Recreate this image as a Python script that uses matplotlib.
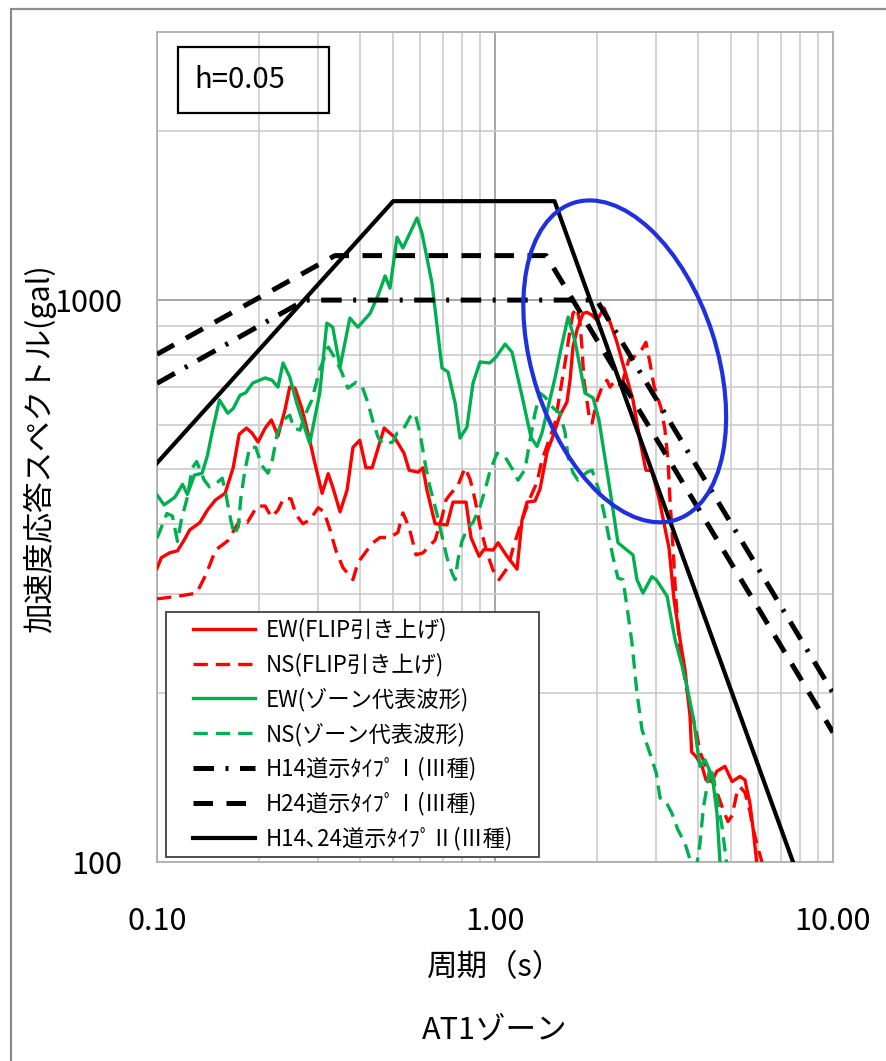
import numpy as np
import matplotlib
matplotlib.use('Agg')
import matplotlib.pyplot as plt
from matplotlib.patches import Ellipse, Rectangle
from matplotlib.transforms import ScaledTranslation
from matplotlib.ticker import LogLocator, NullFormatter, FuncFormatter

plt.rcParams['font.family'] = ['Noto Sans CJK JP', 'DejaVu Sans']

# EW(FLIP引き上げ)
ew_flip_T = [0.100, 0.103, 0.109, 0.115, 0.120, 0.125, 0.134, 0.141, 0.149, 0.159, 0.168, 0.175, 0.184, 0.191, 0.199,
             0.209, 0.218, 0.228, 0.239, 0.247, 0.256, 0.268, 0.283, 0.293, 0.308, 0.321, 0.331, 0.348, 0.365, 0.380,
             0.398, 0.415, 0.433, 0.470, 0.503, 0.538, 0.557, 0.592, 0.612, 0.629, 0.665, 0.721, 0.751, 0.821, 0.849,
             0.897, 0.928, 0.987, 1.021, 1.078, 1.162, 1.202, 1.244, 1.313, 1.359, 1.426, 1.485, 1.557, 1.633, 1.667,
             1.701, 1.747, 1.821, 1.871, 1.937, 2.004, 2.102, 2.189, 2.294, 2.424, 2.560, 2.685, 2.795, 2.910, 3.055,
             3.272, 3.386, 3.526, 3.648, 3.775, 3.817, 3.936, 4.097, 4.211, 4.383, 4.529, 4.791, 5.030, 5.306, 5.489,
             5.680, 5.808, 5.945, 6.012]
ew_flip_S = [333, 348, 355, 358, 373, 390, 402, 423, 441, 453, 503, 577, 592, 580, 559,
             592, 612, 573, 637, 700, 697, 643, 563, 513, 453, 491, 465, 420, 459, 547,
             563, 503, 503, 592, 571, 534, 498, 494, 503, 459, 400, 398, 437, 437, 378,
             350, 360, 359, 370, 352, 332, 406, 437, 439, 461, 537, 573, 624, 659, 720,
             825, 884, 947, 951, 940, 921, 968, 914, 842, 747, 664, 563, 498, 497, 444,
             362, 293, 249, 220, 182, 157, 154, 148, 140, 139, 145, 148, 139, 142, 140,
             127, 114, 100, 93]

# NS(FLIP引き上げ)
ns_flip_T = [0.100, 0.115, 0.131, 0.140, 0.149, 0.162, 0.176, 0.185, 0.198, 0.209, 0.218, 0.228, 0.237, 0.249, 0.258,
             0.270, 0.283, 0.300, 0.312, 0.325, 0.338, 0.355, 0.380, 0.393, 0.433, 0.457, 0.489, 0.516, 0.534, 0.557,
             0.584, 0.612, 0.665, 0.697, 0.716, 0.741, 0.777, 0.815, 0.844, 0.873, 0.903, 0.947, 0.986, 1.028, 1.093,
             1.131, 1.202, 1.269, 1.331, 1.377, 1.455, 1.505, 1.557, 1.611, 1.667, 1.701, 1.747, 1.784, 1.808, 1.833,
             1.897, 1.937, 2.004, 2.073, 2.144, 2.189, 2.236, 2.311, 2.391, 2.491, 2.595, 2.722, 2.796, 2.874, 2.953,
             3.098, 3.184, 3.249, 3.294, 3.360, 3.430, 3.526, 3.648, 3.775, 3.936, 4.041, 4.238, 4.384, 4.537, 4.729,
             4.889, 5.030, 5.200, 5.306, 5.489, 5.680, 5.774, 5.945, 6.162, 6.240]
ns_flip_S = [294, 297, 301, 326, 359, 373, 406, 402, 430, 430, 411, 423, 444, 443, 415,
             400, 406, 427, 420, 390, 359, 334, 318, 341, 369, 378, 378, 386, 418, 394,
             352, 355, 374, 411, 441, 453, 468, 503, 480, 441, 396, 355, 331, 318, 335,
             362, 406, 444, 474, 519, 570, 604, 683, 773, 884, 947, 968, 910, 825, 720,
             624, 604, 664, 700, 720, 700, 712, 700, 720, 785, 795, 818, 841, 773, 704,
             643, 587, 519, 441, 366, 293, 239, 211, 189, 171, 157, 146, 140, 133, 124,
             118, 121, 133, 136, 133, 123, 116, 108, 100, 95]

# EW(ゾーン代表波形)
ew_zone_T = [0.100, 0.105, 0.113, 0.119, 0.123, 0.129, 0.136, 0.141, 0.146, 0.153, 0.162, 0.168, 0.176, 0.183, 0.192,
             0.209, 0.219, 0.228, 0.236, 0.247, 0.259, 0.283, 0.303, 0.318, 0.331, 0.348, 0.372, 0.393, 0.427, 0.451,
             0.473, 0.489, 0.513, 0.534, 0.588, 0.608, 0.651, 0.697, 0.726, 0.762, 0.788, 0.826, 0.861, 0.903, 0.966,
             1.007, 1.071, 1.123, 1.202, 1.278, 1.331, 1.377, 1.505, 1.567, 1.645, 1.725, 1.846, 1.950, 2.030, 2.189,
             2.311, 2.457, 2.560, 2.630, 2.740, 2.910, 3.000, 3.230, 3.408, 3.600, 3.724, 3.877, 3.960, 4.041, 4.181,
             4.325, 4.414, 4.537, 4.630, 4.690]
ew_zone_S = [450, 432, 446, 470, 451, 488, 492, 529, 587, 664, 629, 641, 677, 684, 712,
             727, 720, 700, 773, 730, 656, 556, 683, 910, 895, 760, 929, 895, 947, 1020,
             1104, 1050, 1294, 1238, 1400, 1316, 1072, 757, 745, 656, 568, 594, 712, 776, 773,
             792, 835, 808, 675, 570, 549, 580, 727, 818, 933, 845, 683, 670, 612, 459,
             370, 359, 352, 318, 301, 322, 318, 297, 249, 220, 201, 178, 161, 148, 152,
             145, 139, 122, 100, 86]

# NS(ゾーン代表波形)
ns_zone_T = [0.100, 0.107, 0.111, 0.115, 0.118, 0.123, 0.127, 0.131, 0.138, 0.143, 0.151, 0.156, 0.160, 0.165, 0.169,
             0.174, 0.177, 0.182, 0.188, 0.196, 0.204, 0.213, 0.219, 0.227, 0.236, 0.247, 0.254, 0.265, 0.274, 0.287,
             0.303, 0.321, 0.336, 0.352, 0.367, 0.388, 0.404, 0.421, 0.436, 0.451, 0.467, 0.498, 0.513, 0.534, 0.561,
             0.580, 0.600, 0.621, 0.642, 0.673, 0.697, 0.721, 0.746, 0.762, 0.777, 0.799, 0.832, 0.861, 0.903, 0.934,
             0.966, 1.014, 1.071, 1.131, 1.170, 1.227, 1.269, 1.313, 1.359, 1.406, 1.485, 1.557, 1.611, 1.645, 1.701,
             1.760, 1.871, 1.937, 2.030, 2.102, 2.160, 2.236, 2.311, 2.391, 2.457, 2.543, 2.630, 2.722, 2.874, 3.000,
             3.077, 3.184, 3.339, 3.479, 3.648, 3.775, 3.860, 3.936, 4.041, 4.136, 4.238, 4.325, 4.444, 4.572, 4.691,
             4.791, 4.889]
ns_zone_S = [377, 417, 413, 372, 406, 446, 502, 516, 478, 465, 474, 482, 450, 408, 383,
             395, 444, 498, 547, 547, 508, 492, 516, 580, 612, 624, 592, 587, 624, 664,
             751, 825, 789, 744, 697, 714, 703, 656, 606, 570, 554, 559, 580, 587, 620,
             629, 580, 513, 465, 417, 380, 348, 327, 318, 345, 373, 394, 402, 429, 459,
             496, 534, 526, 498, 478, 500, 563, 629, 683, 672, 643, 629, 582, 526, 493,
             478, 494, 498, 459, 418, 385, 348, 320, 318, 285, 245, 200, 172, 156, 144,
             130, 129, 122, 114, 108, 101, 93, 97, 108, 125, 136, 148, 140, 127, 116,
             105, 95]

# 道示 design spectra (corner points)
h14_t1_T = [0.10, 0.274, 2.0, 10.0]
h14_t1_S = [711, 1000, 1000, 200]
h24_t1_T = [0.10, 0.336, 1.417, 10.0]
h24_t1_S = [801, 1200, 1200, 170]
t2_T = [0.10, 0.50, 1.50, 10.0]
t2_S = [513, 1500, 1500, 63.5]

labels = ['EW(FLIP引き上げ)', 'NS(FLIP引き上げ)', 'EW(ゾーン代表波形)', 'NS(ゾーン代表波形)',
          'H14道示ﾀｲﾌﾟⅠ(Ⅲ種)', 'H24道示ﾀｲﾌﾟⅠ(Ⅲ種)', 'H14､24道示ﾀｲﾌﾟⅡ(Ⅲ種)']

RED = '#ff0000'
GREEN = '#00b050'
jp = ['Noto Sans CJK JP', 'DejaVu Sans']

fig = plt.figure(figsize=(8.87, 10.61), dpi=100)
ax = fig.add_axes([157/887, 1-862/1061, 676/887, 830/1061])

ax.plot(ew_flip_T, ew_flip_S, color=RED, lw=2.4, label=labels[0], zorder=3)
ax.plot(ns_flip_T, ns_flip_S, color=RED, lw=2.4, ls=(0, (4.3, 2.4)), label=labels[1], zorder=3)
ax.plot(ew_zone_T, ew_zone_S, color=GREEN, lw=2.4, label=labels[2], zorder=3)
ax.plot(ns_zone_T, ns_zone_S, color=GREEN, lw=2.4, ls=(0, (4.3, 2.4)), label=labels[3], zorder=3)
ax.plot(h14_t1_T, h14_t1_S, color='k', lw=3.6, ls=(0, (4.1, 2.3, 0.6, 2.3)), label=labels[4], zorder=4)
ax.plot(h24_t1_T, h24_t1_S, color='k', lw=3.6, ls=(0, (3.9, 2.7)), label=labels[5], zorder=4)
ax.plot(t2_T, t2_S, color='k', lw=3.0, label=labels[6], zorder=4)

ax.set_xscale('log')
ax.set_yscale('log')
ax.set_xlim(0.1, 10)
ax.set_ylim(100, 3000)
ax.yaxis.set_minor_locator(LogLocator(base=10, subs=np.arange(2, 10)))
ax.xaxis.set_minor_locator(LogLocator(base=10, subs=np.arange(2, 10)))
ax.xaxis.set_minor_formatter(NullFormatter())
ax.yaxis.set_minor_formatter(NullFormatter())
ax.xaxis.set_major_formatter(FuncFormatter(lambda v, p: '%.2f' % v))
ax.yaxis.set_major_formatter(FuncFormatter(lambda v, p: '%d' % v))
ax.grid(which='major', color='#a6a6a6', lw=1.4, zorder=0)
ax.grid(which='minor', color='#cccccc', lw=1.2, zorder=0)
ax.set_axisbelow(True)
ax.tick_params(which='both', length=0)
ax.tick_params(axis='x', pad=32, labelsize=22)
ax.tick_params(axis='y', pad=25, labelsize=22)
for s in ax.spines.values():
    s.set_color('#b0b0b0')
    s.set_linewidth(1.3)

# h=0.05 box
ax.add_patch(Rectangle((0.031, 0.902), 0.223, 0.0795, transform=ax.transAxes,
                       fill=False, ec='k', lw=1.6, zorder=6))
ax.text(0.056, 0.942, 'h=0.05', transform=ax.transAxes, fontsize=21, va='center', ha='left',
        family=jp, zorder=6)

# blue ellipse around the long-period region
etr = fig.dpi_scale_trans + ScaledTranslation(2.42, 778, ax.transData)
ax.add_artist(Ellipse((0, 0), 1.84, 3.33, angle=17.9, transform=etr, fill=False,
                      ec='#2030dd', lw=3.0, zorder=7))

# legend: box drawn separately so the padding can differ horizontally / vertically
ax.add_patch(Rectangle((0.0133, 0.006), 0.552, 0.295, transform=ax.transAxes,
                       fc='white', ec='#404040', lw=1.3, zorder=8))
leg = ax.legend(loc='upper left', bbox_to_anchor=(0.0533, 0.294), borderaxespad=0, borderpad=0,
                frameon=False, prop={'family': jp, 'size': 16}, handlelength=2.8,
                handletextpad=0.45, labelspacing=0.5)
leg.set_zorder(9)

fig.text(40/887, 1-449/1061, '加速度応答スペクトル(gal)', rotation=90, ha='center', va='center',
         fontsize=22, family=jp)
fig.text(495/887, 1-968/1061, '周期（s）', ha='center', va='center', fontsize=22, family=jp)
fig.text(495/887, 1-1030/1061, 'AT1ゾーン', ha='center', va='center', fontsize=22, family=jp)

fig.patches.append(Rectangle((11/887, -0.05), 1.2, 1.05 - 9/1061, transform=fig.transFigure,
                             fill=False, ec='#8c8c8c', lw=1.6))

fig.savefig('out.png', dpi=100)
